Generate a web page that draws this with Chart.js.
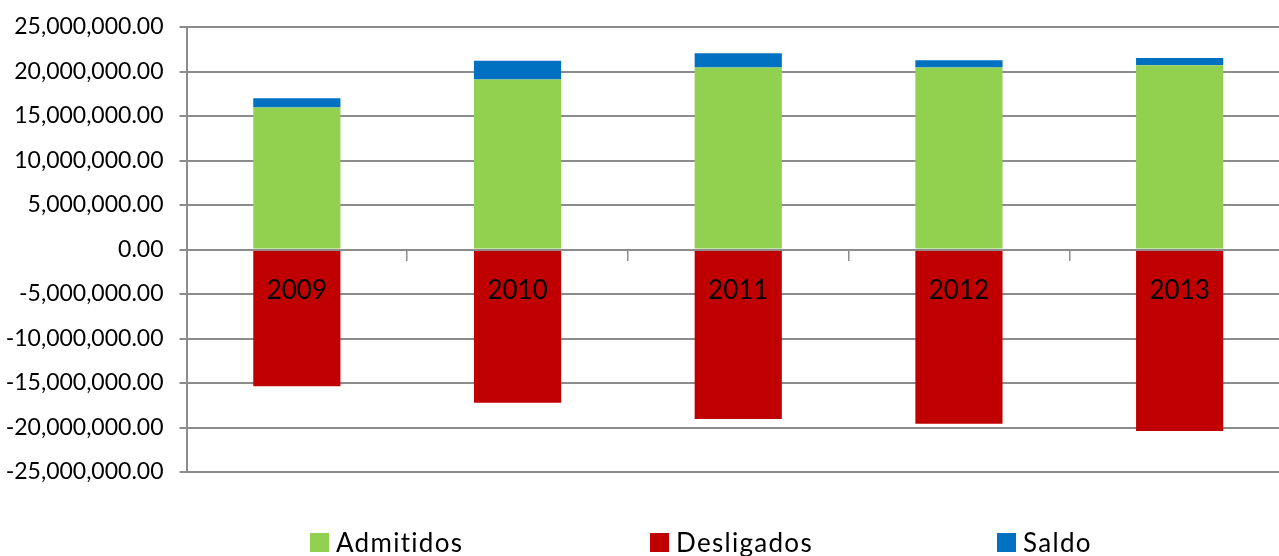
<!DOCTYPE html>
<html>
<head>
<meta charset="utf-8">
<script src="https://cdn.jsdelivr.net/npm/chart.js"></script>
<style>
  body { margin: 0; overflow: hidden; background: #fff; }
  #caixa { width: 1290px; height: 556px; }
</style>
</head>
<body>
<div id="caixa"><canvas id="myChart"></canvas></div>
<script>
// dados
var anos = ['2009', '2010', '2011', '2012', '2013']
var admitidos = [15960000, 19090000, 20440000, 20440000, 20690000]
var desligados = [-15360000, -17230000, -19050000, -19570000, -20390000]
var saldo = [1040000, 2130000, 1600000, 820000, 820000]
var ticksY = [-25000000, -20000000, -15000000, -10000000, -5000000, 0, 5000000, 10000000, 15000000, 20000000, 25000000]

var cinza = '#8c8c8c'

// legenda desenhada a mao (posicao igual ao excel)
var legendaPlugin = {
  id: 'legenda',
  afterDraw: function (chart) {
    var ctx = chart.ctx
    var posX = [310, 650, 997]
    var base = 552
    ctx.save()
    ctx.font = '26px Lato, sans-serif'
    ctx.letterSpacing = '1.3px'
    ctx.textBaseline = 'alphabetic'
    chart.data.datasets.forEach(function (ds, i) {
      ctx.fillStyle = ds.backgroundColor
      ctx.fillRect(posX[i], 533, 19, 19)
      ctx.fillStyle = '#000'
      ctx.fillText(ds.label, posX[i] + 26, base)
    })
    ctx.restore()
  }
}

var dados = {
  labels: anos,
  datasets: [
    { label: 'Admitidos', data: admitidos, backgroundColor: '#92D050' },
    { label: 'Desligados', data: desligados, backgroundColor: '#C00000' },
    { label: 'Saldo', data: saldo, backgroundColor: '#0070C0' }
  ]
}

const config = {
  type: 'bar',
  data: dados,
  options: {
    responsive: true,
    maintainAspectRatio: false,
    animation: false,
    layout: { padding: { top: 27, bottom: 84, right: 0, left: 0 } },
    datasets: { bar: { barPercentage: 0.395, categoryPercentage: 1 } },
    plugins: { legend: { display: false }, tooltip: { enabled: false } },
    scales: {
      x: {
        stacked: true,
        position: { y: 0 },
        border: { color: cinza, width: 2, z: 1 },
        grid: { offset: true, drawOnChartArea: false, drawTicks: true, tickLength: 10, color: cinza, lineWidth: 1.5 },
        ticks: { z: 1, color: '#000', padding: 16, font: { family: 'Lato', size: 26 } }
      },
      y: {
        stacked: true,
        min: -25000000,
        max: 25000000,
        afterFit: function (axis) {
          axis.width = 186.5
          axis.paddingTop = 0
          axis.paddingBottom = 0
        },
        afterBuildTicks: function (axis) { axis.ticks = ticksY.map(function (v) { return { value: v } }) },
        border: { color: cinza, width: 2 },
        grid: { color: cinza, lineWidth: 2, tickLength: 7 },
        ticks: {
          color: '#000',
          padding: 16,
          font: { family: 'Lato', size: 23 },
          callback: function (v) {
            return v.toLocaleString('en-US', { minimumFractionDigits: 2, maximumFractionDigits: 2 })
          }
        }
      }
    }
  },
  plugins: [legendaPlugin]
}

var myChart = new Chart(document.getElementById('myChart'), config)
</script>
</body>
</html>
